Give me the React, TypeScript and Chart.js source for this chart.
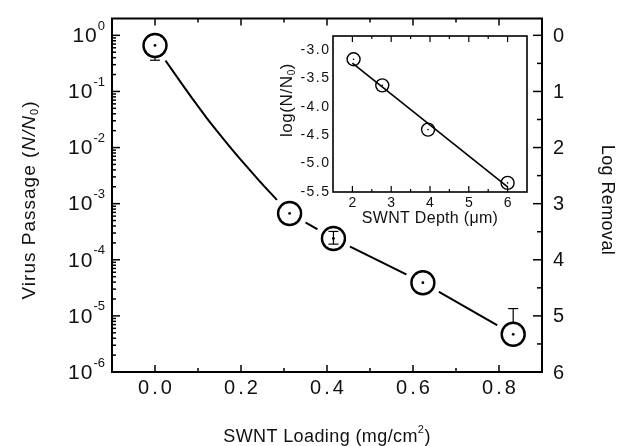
import React, { useEffect, useRef } from "react";
import { Chart, registerables } from "chart.js";
Chart.register(...registerables);

// ---------- main panel data ----------
const loading = [0.0, 0.313, 0.415, 0.623, 0.833];
const passage = [0.66, 6.7e-4, 2.4e-4, 3.9e-5, 4.7e-6];
const errMinus = [0.36, null, 1.9e-4, null, null];
const errPlus = [null, null, 3.2e-4, null, 1.35e-5];
// fitted curve (between first two points)
const fitLoading = [0, 0.03, 0.06, 0.09, 0.12, 0.15, 0.18, 0.21, 0.24, 0.27, 0.313];
const fitPassage = [0.66, 0.309, 0.145, 0.0692, 0.0339, 0.0174, 0.00912, 0.0049, 0.00269, 0.00151, 0.00067];
const xTickLabels = ["0.0", "0.2", "0.4", "0.6", "0.8"];
const xTickValues = [0, 0.2, 0.4, 0.6, 0.8];
const yExponents = [0, -1, -2, -3, -4, -5, -6];
const removalTicks = [0, 1, 2, 3, 4, 5, 6];

// ---------- inset data ----------
const depth = [2.03, 2.77, 3.95, 6.0];
const logN = [-3.16, -3.62, -4.4, -5.34];
const fitDepth = [2, 6];
const fitLogN = [-3.23, -5.41];
const insetXTicks = [2, 3, 4, 5, 6];
const insetYTicks = [-3.0, -3.5, -4.0, -4.5, -5.0, -5.5];

const FONT = '"Liberation Sans", Arial, Helvetica, sans-serif';
const INK = "#111";
const MARK_R = 11.5;

type Piece = { t: string; size: number; italic?: boolean; dy?: number };

function setFont(ctx: CanvasRenderingContext2D, size: number, italic?: boolean) {
  ctx.font = `${italic ? "italic " : ""}${size}px ${FONT}`;
}

function drawSpaced(
  ctx: CanvasRenderingContext2D,
  text: string,
  x: number,
  y: number,
  align: "left" | "center" | "right",
  spacing: number
) {
  (ctx as any).letterSpacing = spacing + "px";
  const w = ctx.measureText(text).width - spacing;
  const sx = align === "center" ? x - w / 2 : align === "right" ? x - w : x;
  ctx.textAlign = "left";
  ctx.fillText(text, sx, y);
  (ctx as any).letterSpacing = "0px";
}

function drawRich(ctx: CanvasRenderingContext2D, pieces: Piece[], cx: number, cy: number, spacing: number) {
  (ctx as any).letterSpacing = spacing + "px";
  let total = 0;
  const widths = pieces.map((p) => {
    setFont(ctx, p.size, p.italic);
    const w = ctx.measureText(p.t).width;
    total += w;
    return w;
  });
  let x = cx - total / 2;
  ctx.textAlign = "left";
  ctx.textBaseline = "middle";
  pieces.forEach((p, i) => {
    setFont(ctx, p.size, p.italic);
    ctx.fillText(p.t, x, cy + (p.dy || 0));
    x += widths[i];
  });
  (ctx as any).letterSpacing = "0px";
}

function seg(ctx: CanvasRenderingContext2D, x1: number, y1: number, x2: number, y2: number) {
  ctx.beginPath();
  ctx.moveTo(x1, y1);
  ctx.lineTo(x2, y2);
  ctx.stroke();
}

const mainDecor = {
  id: "mainDecor",
  afterDatasetDraw(chart: any, args: any) {
    if (args.index !== 2) return;
    const xs = chart.scales.x;
    const ys = chart.scales.y;
    const ctx: CanvasRenderingContext2D = chart.ctx;
    ctx.save();
    ctx.strokeStyle = "#000";
    ctx.lineWidth = 1.2;
    loading.forEach((lx, i) => {
      const px = xs.getPixelForValue(lx);
      const py = ys.getPixelForValue(passage[i]);
      [errMinus[i], errPlus[i]].forEach((b) => {
        if (b == null) return;
        const pb = ys.getPixelForValue(b);
        const d = pb - py;
        const start = Math.abs(d) > MARK_R ? py + Math.sign(d) * MARK_R : py;
        seg(ctx, px, start, px, pb);
        seg(ctx, px - 5, pb, px + 5, pb);
      });
    });
    ctx.restore();
  },
  afterDraw(chart: any) {
    const ctx: CanvasRenderingContext2D = chart.ctx;
    const { left, right, top, bottom } = chart.chartArea;
    const xs = chart.scales.x;
    const ys = chart.scales.y;
    const yr = chart.scales.yR;
    ctx.save();
    ctx.strokeStyle = "#000";
    ctx.fillStyle = INK;
    // frame
    ctx.lineWidth = 2;
    ctx.strokeRect(left, top, right - left, bottom - top);
    ctx.lineWidth = 1.5;
    // x ticks (inside, top and bottom)
    for (let k = 0; k <= 8; k++) {
      const v = k / 10;
      const px = xs.getPixelForValue(v);
      const len = k % 2 === 0 ? 7 : 4;
      seg(ctx, px, bottom, px, bottom - len);
      seg(ctx, px, top, px, top + len);
    }
    // left log ticks
    yExponents.forEach((e) => {
      const py = ys.getPixelForValue(Math.pow(10, e));
      seg(ctx, left, py, left + 8, py);
      for (let m = 2; m <= 9; m++) {
        const v = m * Math.pow(10, e);
        if (v > ys.max) continue;
        const pm = ys.getPixelForValue(v);
        seg(ctx, left, pm, left + 4, pm);
      }
    });
    // right ticks
    for (let k = 0; k <= 12; k++) {
      const v = k / 2;
      const py = yr.getPixelForValue(v);
      const len = k % 2 === 0 ? 9 : 5;
      seg(ctx, right, py, right - len, py);
    }
    // x tick labels
    ctx.textBaseline = "middle";
    setFont(ctx, 20);
    xTickValues.forEach((v, i) => {
      drawSpaced(ctx, xTickLabels[i], xs.getPixelForValue(v), bottom + 16, "center", 3);
    });
    // left tick labels 10^e
    yExponents.forEach((e) => {
      const py = ys.getPixelForValue(Math.pow(10, e));
      const ex = String(e);
      setFont(ctx, 13);
      const ew = ctx.measureText(ex).width;
      const supRight = left - 7;
      ctx.textAlign = "left";
      ctx.textBaseline = "middle";
      ctx.fillText(ex, supRight - ew, py - 9);
      setFont(ctx, 21);
      drawSpaced(ctx, "10", supRight - ew - 1, py + 1, "right", 1);
    });
    // right tick labels
    setFont(ctx, 20);
    ctx.textBaseline = "middle";
    removalTicks.forEach((v) => {
      ctx.textAlign = "left";
      ctx.fillText(String(v), right + 11, yr.getPixelForValue(v) + 1);
    });
    // titles
    ctx.save();
    ctx.translate(30, 200);
    ctx.rotate(-Math.PI / 2);
    drawRich(
      ctx,
      [
        { t: "Virus Passage (", size: 19 },
        { t: "N/N", size: 19, italic: true },
        { t: "0", size: 11, dy: 5 },
        { t: ")", size: 19 },
      ],
      0,
      0,
      1
    );
    ctx.restore();
    drawRich(
      ctx,
      [
        { t: "SWNT Loading (mg/cm", size: 18 },
        { t: "2", size: 11, dy: -7 },
        { t: ")", size: 18 },
      ],
      (left + right) / 2,
      437,
      0.4
    );
    ctx.save();
    ctx.translate(607, 200);
    ctx.rotate(Math.PI / 2);
    drawRich(ctx, [{ t: "Log Removal", size: 18 }], 0, 0, 0.4);
    ctx.restore();
    ctx.restore();
  },
};

const insetDecor = {
  id: "insetDecor",
  afterDraw(chart: any) {
    const ctx: CanvasRenderingContext2D = chart.ctx;
    const { left, right, top, bottom } = chart.chartArea;
    const xs = chart.scales.x;
    const ys = chart.scales.y;
    ctx.save();
    ctx.strokeStyle = "#000";
    ctx.fillStyle = INK;
    ctx.lineWidth = 1.6;
    ctx.strokeRect(left, top, right - left, bottom - top);
    ctx.lineWidth = 1.2;
    for (let k = 4; k <= 12; k++) {
      const v = k / 2;
      const px = xs.getPixelForValue(v);
      const len = k % 2 === 0 ? 6 : 3;
      seg(ctx, px, bottom, px, bottom - len);
      seg(ctx, px, top, px, top + len);
    }
    setFont(ctx, 14);
    ctx.textBaseline = "middle";
    insetXTicks.forEach((v) => {
      drawSpaced(ctx, String(v), xs.getPixelForValue(v), bottom + 11, "center", 0);
    });
    insetYTicks.forEach((v) => {
      drawSpaced(ctx, v.toFixed(1), left - 4, ys.getPixelForValue(v), "right", 1.5);
    });
    drawRich(
      ctx,
      [
        { t: "SWNT Depth (", size: 16 },
        { t: "\u03bc", size: 16 },
        { t: "m)", size: 16 },
      ],
      (left + right) / 2,
      bottom + 27,
      0.3
    );
    ctx.save();
    ctx.translate(27, 100 - 26);
    ctx.rotate(-Math.PI / 2);
    drawRich(
      ctx,
      [
        { t: "log(N/N", size: 17 },
        { t: "0", size: 10, dy: 5 },
        { t: ")", size: 17 },
      ],
      0,
      0,
      0.6
    );
    ctx.restore();
    ctx.restore();
  },
};

export default function App() {
  const mainRef = useRef<HTMLCanvasElement | null>(null);
  const insetRef = useRef<HTMLCanvasElement | null>(null);

  useEffect(() => {
    const pts = loading.map((x, i) => ({ x, y: passage[i] }));
    const main = new Chart(mainRef.current as HTMLCanvasElement, {
      type: "scatter",
      data: {
        datasets: [
          {
            label: "fit",
            data: fitLoading.map((x, i) => ({ x, y: fitPassage[i] })),
            showLine: true,
            borderColor: "#000",
            borderWidth: 2,
            pointRadius: 0,
            cubicInterpolationMode: "monotone",
            order: 5,
          } as any,
          {
            label: "segments",
            data: pts.slice(1),
            showLine: true,
            borderColor: "#000",
            borderWidth: 2,
            pointRadius: 0,
            order: 4,
          },
          {
            label: "gaps",
            data: pts,
            pointRadius: 18.5,
            pointBackgroundColor: "#fff",
            pointBorderWidth: 0,
            pointBorderColor: "#fff",
            order: 3,
          },
          {
            label: "markers",
            data: pts,
            pointRadius: MARK_R,
            pointBackgroundColor: "rgba(0,0,0,0)",
            pointBorderColor: "#000",
            pointBorderWidth: 2.4,
            order: 1,
          },
          {
            label: "dots",
            data: pts,
            pointRadius: 1.4,
            pointBackgroundColor: "#000",
            pointBorderWidth: 0,
            order: 0,
          },
        ],
      },
      options: {
        responsive: false,
        animation: false,
        devicePixelRatio: 1,
        events: [],
        layout: { padding: { top: 15, left: 0, right: 0, bottom: 0 } },
        plugins: { legend: { display: false }, tooltip: { enabled: false } },
        scales: {
          x: {
            type: "linear",
            position: "bottom",
            min: -0.1,
            max: 0.9,
            ticks: { display: false },
            grid: { display: false },
            border: { display: false },
            afterFit: (s: any) => {
              s.height = 74;
            },
          },
          y: {
            type: "logarithmic",
            position: "left",
            min: 1e-6,
            max: Math.pow(10, 0.3),
            ticks: { display: false },
            grid: { display: false },
            border: { display: false },
            afterFit: (s: any) => {
              s.width = 112;
            },
          },
          yR: {
            type: "linear",
            position: "right",
            min: -0.3,
            max: 6,
            reverse: true,
            ticks: { display: false },
            grid: { display: false },
            border: { display: false },
            afterFit: (s: any) => {
              s.width = 81;
            },
          },
        },
      },
      plugins: [mainDecor],
    } as any);

    const inset = new Chart(insetRef.current as HTMLCanvasElement, {
      type: "scatter",
      data: {
        datasets: [
          {
            label: "linear fit",
            data: fitDepth.map((x, i) => ({ x, y: fitLogN[i] })),
            showLine: true,
            borderColor: "#000",
            borderWidth: 1.6,
            pointRadius: 0,
            order: 2,
          },
          {
            label: "markers",
            data: depth.map((x, i) => ({ x, y: logN[i] })),
            pointRadius: 6.5,
            pointBackgroundColor: "rgba(0,0,0,0)",
            pointBorderColor: "#000",
            pointBorderWidth: 1.4,
            order: 1,
          },
          {
            label: "dots",
            data: depth.map((x, i) => ({ x, y: logN[i] })),
            pointRadius: 0.8,
            pointBackgroundColor: "#000",
            pointBorderWidth: 0,
            order: 0,
          },
        ],
      },
      options: {
        responsive: false,
        animation: false,
        devicePixelRatio: 1,
        events: [],
        layout: { padding: { top: 10, left: 0, right: 23, bottom: 0 } },
        plugins: { legend: { display: false }, tooltip: { enabled: false } },
        scales: {
          x: {
            type: "linear",
            position: "bottom",
            min: 1.5,
            max: 6.5,
            ticks: { display: false },
            grid: { display: false },
            border: { display: false },
            afterFit: (s: any) => {
              s.height = 34;
            },
          },
          y: {
            type: "linear",
            position: "left",
            min: -5.5,
            max: -2.75,
            ticks: { display: false },
            grid: { display: false },
            border: { display: false },
            afterFit: (s: any) => {
              s.width = 73;
            },
          },
        },
      },
      plugins: [insetDecor],
    } as any);

    return () => {
      main.destroy();
      inset.destroy();
    };
  }, []);

  return (
    <div style={{ position: "absolute", left: 0, top: 0, width: 623, height: 446, background: "#fff" }}>
      <canvas ref={mainRef} width={623} height={446} style={{ position: "absolute", left: 0, top: 0 }} />
      <canvas ref={insetRef} width={290} height={200} style={{ position: "absolute", left: 260, top: 26 }} />
    </div>
  );
}
